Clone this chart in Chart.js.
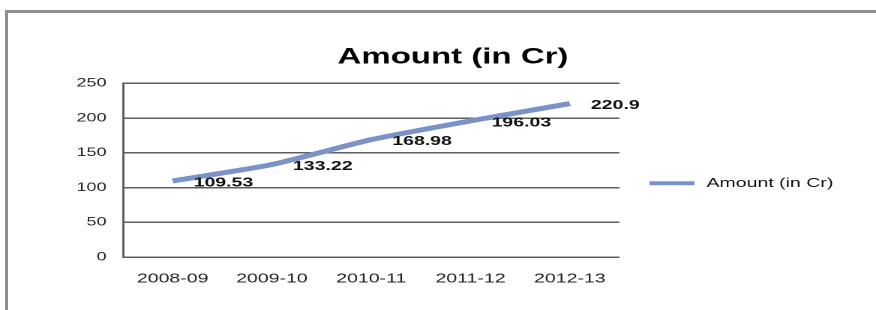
<!DOCTYPE html>
<html>
<head>
<meta charset="utf-8">
<script src="https://cdn.jsdelivr.net/npm/chart.js@4.4.1/dist/chart.umd.min.js"></script>
<style>
body{margin:0;background:#fff;width:876px;height:310px;overflow:hidden;position:relative;}
.frame{position:absolute;left:5px;top:10px;width:900px;height:400px;border-top:3px solid #8e8e8e;border-left:3px solid #8e8e8e;}
/* the source picture is stretched sideways, so the chart is drawn narrow and scaled */
.wrap{position:absolute;left:0;top:0;width:584px;height:310px;transform:scaleX(1.5);transform-origin:0 0;}
</style>
</head>
<body>
<div class="frame"></div>
<div class="wrap"><canvas id="amount-graph" width="584" height="310" style="width:584px;height:310px"></canvas></div>
<script>
var years = ['2008-09', '2009-10', '2010-11', '2011-12', '2012-13'];
var amounts = [109.53, 133.22, 168.98, 196.03, 220.9];
var yMin = 0, yMax = 250, yStep = 50;

var fontName = '"Liberation Sans", Arial, sans-serif';

// value written to the right of each point
var pointLabels = {
      id: 'pointLabels',
      afterDatasetsDraw: function(chart){
            var ctx = chart.ctx;
            var meta = chart.getDatasetMeta(0);
            ctx.save();
            ctx.font = 'bold 13px ' + fontName;
            ctx.fillStyle = '#111';
            ctx.textAlign = 'left';
            ctx.textBaseline = 'middle';
            meta.data.forEach(function(pt, i){
                  ctx.fillText(String(amounts[i]), pt.x + 14, pt.y + 2);
            });
            ctx.restore();
      }
};

// legend drawn in the empty space right of the plot
var sideLegend = {
      id: 'sideLegend',
      afterDraw: function(chart){
            var ctx = chart.ctx;
            var area = chart.chartArea;
            var ds = chart.data.datasets[0];
            var x = area.right + 20;
            var y = (area.top + area.bottom) / 2 + 13;
            ctx.save();
            ctx.strokeStyle = ds.borderColor;
            ctx.lineWidth = 4;
            ctx.beginPath();
            ctx.moveTo(x, y);
            ctx.lineTo(x + 30, y);
            ctx.stroke();
            ctx.font = '13px ' + fontName;
            ctx.fillStyle = '#111';
            ctx.textAlign = 'left';
            ctx.textBaseline = 'middle';
            ctx.fillText(ds.label, x + 38, y);
            ctx.restore();
      }
};

var amountChart = new Chart(document.getElementById('amount-graph'), {
      type: 'line',
      data: {
            labels: years,
            datasets: [{
                  label: 'Amount (in Cr)',
                  data: amounts,
                  borderColor: '#7b92c8',
                  backgroundColor: '#7b92c8',
                  borderWidth: 5,
                  tension: 0.2,
                  pointRadius: 0,
                  fill: false
            }]
      },
      options: {
            responsive: false,
            animation: false,
            devicePixelRatio: 2,
            layout: {padding: {left: 40, right: 20, top: 30, bottom: 26}},
            plugins: {
                  title: {
                        display: true,
                        text: 'Amount (in Cr)',
                        color: '#000',
                        font: {family: fontName, size: 22, weight: 'bold'},
                        padding: {top: 14, bottom: 13}
                  },
                  legend: {display: false},
                  tooltip: {enabled: false}
            },
            scales: {
                  x: {
                        offset: true,
                        grid: {display: false, drawTicks: false},
                        border: {display: false},
                        ticks: {color: '#222', padding: 14, font: {family: fontName, size: 13}},
                        afterFit: function(scale){ scale.height = 27; }
                  },
                  y: {
                        min: yMin,
                        max: yMax,
                        ticks: {stepSize: yStep, color: '#222', padding: 11, font: {family: fontName, size: 12}},
                        grid: {color: '#5f5f5f', lineWidth: 1.5, drawTicks: false},
                        border: {display: true, color: '#5f5f5f', width: 1.5},
                        afterFit: function(scale){ scale.width = 42; }
                  },
                  // empty axis, keeps the room where the legend is drawn
                  side: {
                        type: 'linear',
                        position: 'right',
                        grid: {display: false, drawTicks: false},
                        border: {display: false},
                        ticks: {display: false},
                        afterFit: function(scale){ scale.width = 151; }
                  }
            }
      },
      plugins: [pointLabels, sideLegend]
});
</script>
</body>
</html>
